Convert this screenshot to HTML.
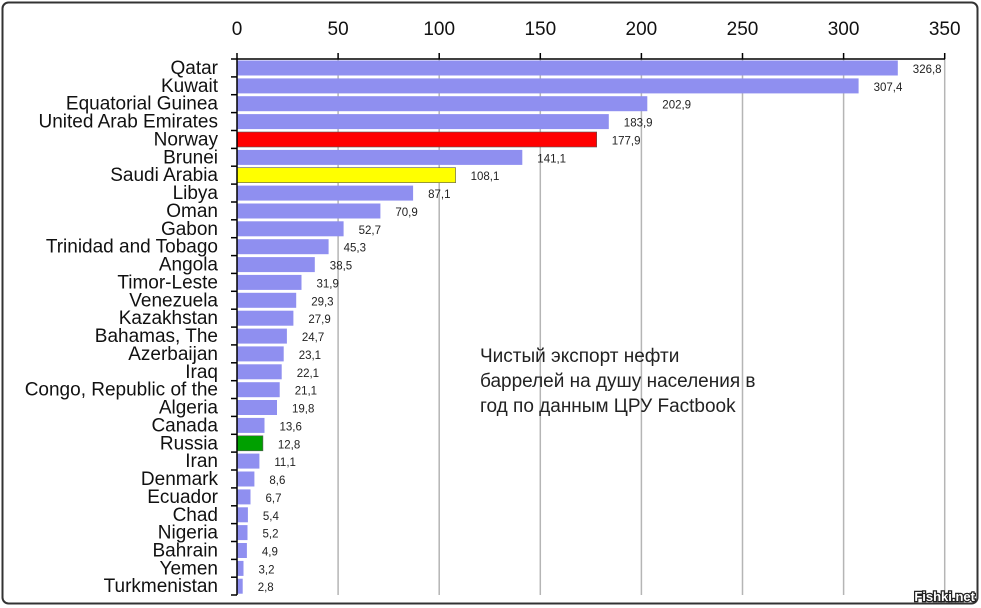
<!DOCTYPE html>
<html><head><meta charset="utf-8"><style>
html,body{margin:0;padding:0;background:#fff;}
svg{display:block;font-family:"Liberation Sans",Arial,sans-serif;}
</style></head><body>
<svg width="981" height="608" viewBox="0 0 981 608" xmlns="http://www.w3.org/2000/svg">
<rect x="0" y="0" width="981" height="608" fill="#fff"/>
<rect x="2.5" y="2.5" width="975" height="601" rx="6" fill="#fff" stroke="#333" stroke-width="2"/>
<g stroke="#b5b5b5" stroke-width="1.5">
<line x1="338.1" y1="59" x2="338.1" y2="595"/><line x1="439.2" y1="59" x2="439.2" y2="595"/><line x1="540.3" y1="59" x2="540.3" y2="595"/><line x1="641.4" y1="59" x2="641.4" y2="595"/><line x1="742.5" y1="59" x2="742.5" y2="595"/><line x1="843.6" y1="59" x2="843.6" y2="595"/><line x1="944.7" y1="59" x2="944.7" y2="595"/>
</g>
<g stroke="#000" stroke-width="1.5">
<line x1="237" y1="53" x2="237" y2="59"/><line x1="338.1" y1="53" x2="338.1" y2="59"/><line x1="439.2" y1="53" x2="439.2" y2="59"/><line x1="540.3" y1="53" x2="540.3" y2="59"/><line x1="641.4" y1="53" x2="641.4" y2="59"/><line x1="742.5" y1="53" x2="742.5" y2="59"/><line x1="843.6" y1="53" x2="843.6" y2="59"/><line x1="944.7" y1="53" x2="944.7" y2="59"/>
</g>
<g font-size="19" text-anchor="middle" fill="#111">
<text x="237" y="35">0</text><text x="338.1" y="35">50</text><text x="439.2" y="35">100</text><text x="540.3" y="35">150</text><text x="641.4" y="35">200</text><text x="742.5" y="35">250</text><text x="843.6" y="35">300</text><text x="944.7" y="35">350</text>
</g>
<g fill="#8f8ff0">
<rect x="237" y="60.5" width="660.8" height="15"/>
<rect x="237" y="78.4" width="621.6" height="15"/>
<rect x="237" y="96.2" width="410.3" height="15"/>
<rect x="237" y="114.1" width="371.8" height="15"/>
<rect x="237" y="149.9" width="285.3" height="15"/>
<rect x="237" y="185.6" width="176.1" height="15"/>
<rect x="237" y="203.5" width="143.4" height="15"/>
<rect x="237" y="221.3" width="106.6" height="15"/>
<rect x="237" y="239.2" width="91.6" height="15"/>
<rect x="237" y="257.1" width="77.8" height="15"/>
<rect x="237" y="274.9" width="64.5" height="15"/>
<rect x="237" y="292.8" width="59.2" height="15"/>
<rect x="237" y="310.7" width="56.4" height="15"/>
<rect x="237" y="328.6" width="49.9" height="15"/>
<rect x="237" y="346.4" width="46.7" height="15"/>
<rect x="237" y="364.3" width="44.7" height="15"/>
<rect x="237" y="382.2" width="42.7" height="15"/>
<rect x="237" y="400.0" width="40.0" height="15"/>
<rect x="237" y="417.9" width="27.5" height="15"/>
<rect x="237" y="453.6" width="22.4" height="15"/>
<rect x="237" y="471.5" width="17.4" height="15"/>
<rect x="237" y="489.4" width="13.5" height="15"/>
<rect x="237" y="507.3" width="10.9" height="15"/>
<rect x="237" y="525.1" width="10.5" height="15"/>
<rect x="237" y="543.0" width="9.9" height="15"/>
<rect x="237" y="560.9" width="6.5" height="15"/>
<rect x="237" y="578.7" width="5.7" height="15"/>
</g>
<rect x="237" y="132.0" width="359.7" height="15" fill="#ff0000" stroke="#555" stroke-width="0.6"/>
<rect x="237" y="167.7" width="218.6" height="15" fill="#ffff00" stroke="#555" stroke-width="0.6"/>
<rect x="237" y="435.8" width="25.9" height="15" fill="#00a000" stroke="#555" stroke-width="0.6"/>
<g font-size="11.5" fill="#222">
<text x="912.8" y="73">326,8</text>
<text x="873.6" y="90.9">307,4</text>
<text x="662.3" y="108.7">202,9</text>
<text x="623.8" y="126.6">183,9</text>
<text x="611.7" y="144.5">177,9</text>
<text x="537.3" y="162.4">141,1</text>
<text x="470.6" y="180.2">108,1</text>
<text x="428.1" y="198.1">87,1</text>
<text x="395.4" y="216">70,9</text>
<text x="358.6" y="233.8">52,7</text>
<text x="343.6" y="251.7">45,3</text>
<text x="329.8" y="269.6">38,5</text>
<text x="316.5" y="287.4">31,9</text>
<text x="311.2" y="305.3">29,3</text>
<text x="308.4" y="323.2">27,9</text>
<text x="301.9" y="341.1">24,7</text>
<text x="298.7" y="358.9">23,1</text>
<text x="296.7" y="376.8">22,1</text>
<text x="294.7" y="394.7">21,1</text>
<text x="292" y="412.5">19,8</text>
<text x="279.5" y="430.4">13,6</text>
<text x="277.9" y="448.3">12,8</text>
<text x="274.4" y="466.1">11,1</text>
<text x="269.4" y="484">8,6</text>
<text x="265.5" y="501.9">6,7</text>
<text x="262.9" y="519.8">5,4</text>
<text x="262.5" y="537.6">5,2</text>
<text x="261.9" y="555.5">4,9</text>
<text x="258.5" y="573.4">3,2</text>
<text x="257.7" y="591.2">2,8</text>
</g>
<g font-size="19" text-anchor="end" fill="#111">
<text x="218" y="74">Qatar</text>
<text x="218" y="91.9">Kuwait</text>
<text x="218" y="109.7">Equatorial Guinea</text>
<text x="218" y="127.6">United Arab Emirates</text>
<text x="218" y="145.5">Norway</text>
<text x="218" y="163.4">Brunei</text>
<text x="218" y="181.2">Saudi Arabia</text>
<text x="218" y="199.1">Libya</text>
<text x="218" y="217">Oman</text>
<text x="218" y="234.8">Gabon</text>
<text x="218" y="252.7">Trinidad and Tobago</text>
<text x="218" y="270.6">Angola</text>
<text x="218" y="288.4">Timor-Leste</text>
<text x="218" y="306.3">Venezuela</text>
<text x="218" y="324.2">Kazakhstan</text>
<text x="218" y="342.1">Bahamas, The</text>
<text x="218" y="359.9">Azerbaijan</text>
<text x="218" y="377.8">Iraq</text>
<text x="218" y="395.7">Congo, Republic of the</text>
<text x="218" y="413.5">Algeria</text>
<text x="218" y="431.4">Canada</text>
<text x="218" y="449.3">Russia</text>
<text x="218" y="467.1">Iran</text>
<text x="218" y="485">Denmark</text>
<text x="218" y="502.9">Ecuador</text>
<text x="218" y="520.8">Chad</text>
<text x="218" y="538.6">Nigeria</text>
<text x="218" y="556.5">Bahrain</text>
<text x="218" y="574.4">Yemen</text>
<text x="218" y="592.2">Turkmenistan</text>
</g>
<g stroke="#000" stroke-width="1.5">
<line x1="231" y1="59" x2="237" y2="59"/><line x1="231" y1="76.9" x2="237" y2="76.9"/><line x1="231" y1="94.7" x2="237" y2="94.7"/><line x1="231" y1="112.6" x2="237" y2="112.6"/><line x1="231" y1="130.5" x2="237" y2="130.5"/><line x1="231" y1="148.4" x2="237" y2="148.4"/><line x1="231" y1="166.2" x2="237" y2="166.2"/><line x1="231" y1="184.1" x2="237" y2="184.1"/><line x1="231" y1="202" x2="237" y2="202"/><line x1="231" y1="219.8" x2="237" y2="219.8"/><line x1="231" y1="237.7" x2="237" y2="237.7"/><line x1="231" y1="255.6" x2="237" y2="255.6"/><line x1="231" y1="273.4" x2="237" y2="273.4"/><line x1="231" y1="291.3" x2="237" y2="291.3"/><line x1="231" y1="309.2" x2="237" y2="309.2"/><line x1="231" y1="327.1" x2="237" y2="327.1"/><line x1="231" y1="344.9" x2="237" y2="344.9"/><line x1="231" y1="362.8" x2="237" y2="362.8"/><line x1="231" y1="380.7" x2="237" y2="380.7"/><line x1="231" y1="398.5" x2="237" y2="398.5"/><line x1="231" y1="416.4" x2="237" y2="416.4"/><line x1="231" y1="434.3" x2="237" y2="434.3"/><line x1="231" y1="452.1" x2="237" y2="452.1"/><line x1="231" y1="470" x2="237" y2="470"/><line x1="231" y1="487.9" x2="237" y2="487.9"/><line x1="231" y1="505.8" x2="237" y2="505.8"/><line x1="231" y1="523.6" x2="237" y2="523.6"/><line x1="231" y1="541.5" x2="237" y2="541.5"/><line x1="231" y1="559.4" x2="237" y2="559.4"/><line x1="231" y1="577.2" x2="237" y2="577.2"/><line x1="231" y1="595" x2="237" y2="595"/>
<line x1="237" y1="59" x2="945" y2="59"/><line x1="237" y1="59" x2="237" y2="595"/>
</g>
<text x="480" y="362" font-size="19" fill="#222">Чистый экспорт нефти</text>
<text x="480" y="387" font-size="19" fill="#222">баррелей на душу населения в</text>
<text x="480" y="412" font-size="19" fill="#222">год по данным ЦРУ Factbook</text>
<text x="975" y="601" font-size="13" text-anchor="end" fill="#fff" stroke="#222" stroke-width="2.5" paint-order="stroke" font-weight="bold">Fishki.net</text>
</svg>
</body></html>
